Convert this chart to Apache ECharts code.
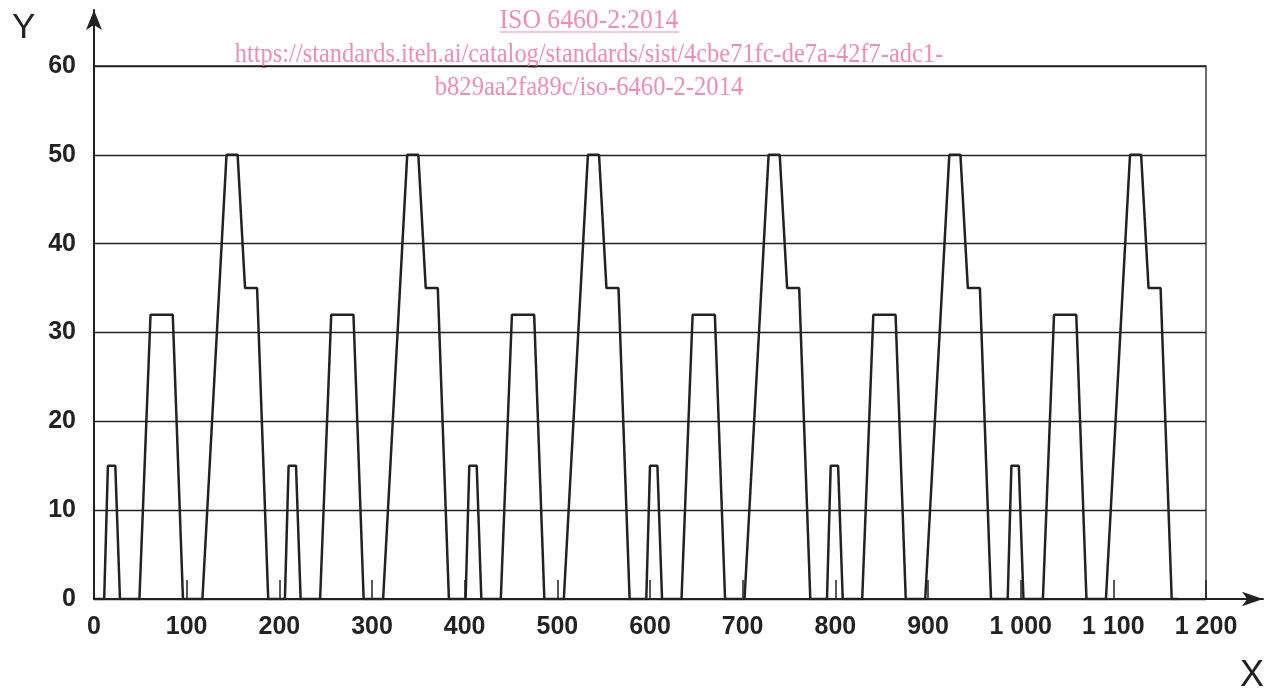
<!DOCTYPE html>
<html>
<head>
<meta charset="utf-8">
<script src="https://cdn.jsdelivr.net/npm/echarts@6/dist/echarts.min.js"></script>
<style>
  html, body { margin: 0; padding: 0; background: #fff; }
  #chart { width: 1274px; height: 688px; }
</style>
</head>
<body>
<div id="chart"></div>
<script>
// 一个循环的时间点(s)与速度(km/h)
const cycleTime = [0, 11, 15, 23, 28, 49, 61, 85, 96, 117, 143, 155, 163, 176, 188, 195];
const cycleSpeed = [0, 0, 15, 15, 0, 0, 32, 32, 0, 0, 50, 50, 35, 35, 0, 0];
// 各循环起始时间
const cycleStarts = [0, 195, 390, 585, 780, 975];
// 刻度
const xTicks = [0, 100, 200, 300, 400, 500, 600, 700, 800, 900, 1000, 1100, 1200];
const yTicks = [0, 10, 20, 30, 40, 50, 60];

const ink = '#222';
const pink = '#ef8db2';
const wmFont = '27px "Liberation Serif"';

// 拼接曲线数据
function buildData() {
    const data = [];
    cycleStarts.forEach(start => {
        cycleTime.forEach((t, i) => {
            data.push([start + t, cycleSpeed[i]]);
        });
    });
    return data;
}

function fmtThousand(v) {
    return v >= 1000 ? String(v).replace(/(\d)(?=(\d{3})$)/, '$1 ') : String(v);
}

// 水印文字
function wmText(text, baseline, sx) {
    return {
        type: 'text', x: 589, y: baseline, scaleX: sx,
        style: { text: text, font: wmFont, fill: pink, textAlign: 'center', textVerticalAlign: 'bottom' }
    };
}

const chart = echarts.init(document.getElementById('chart'));

const option = {
    animation: false,
    backgroundColor: '#fff',
    title: [
        { text: 'Y', left: 7, top: 6, textStyle: { fontFamily: 'Liberation Sans', fontSize: 35, fontWeight: 'normal', color: ink } },
        { text: 'X', left: 1235, top: 653, textStyle: { fontFamily: 'Liberation Sans', fontSize: 36, fontWeight: 'normal', color: ink } }
    ],
    grid: [
        { left: 94, right: 68, top: 66, bottom: 89, show: true, borderColor: ink, borderWidth: 1.3 },
        { left: 94, right: 11, top: 10, bottom: 89 }
    ],
    xAxis: [
        {
            gridIndex: 0, type: 'value', min: xTicks[0], max: xTicks[xTicks.length - 1], interval: 100,
            axisLine: { show: false },
            axisTick: { show: true, inside: true, length: 19, lineStyle: { color: ink, width: 1.5 } },
            splitLine: { show: false },
            axisLabel: {
                margin: 16, color: ink, fontFamily: 'Liberation Sans', fontSize: 25, fontWeight: 'bold',
                formatter: v => fmtThousand(v)
            }
        },
        {
            gridIndex: 1, type: 'value', min: 0, max: 1,
            axisLine: { show: true, symbol: ['none', 'arrow'], symbolSize: [11, 21], lineStyle: { color: ink, width: 2 } },
            axisTick: { show: false }, axisLabel: { show: false }, splitLine: { show: false }
        }
    ],
    yAxis: [
        {
            gridIndex: 0, type: 'value', min: yTicks[0], max: yTicks[yTicks.length - 1], interval: 10,
            axisLine: { show: false },
            axisTick: { show: false },
            splitLine: { show: true, lineStyle: { color: ink, width: 1.3 } },
            axisLabel: { margin: 18, color: ink, fontFamily: 'Liberation Sans', fontSize: 25, fontWeight: 'bold' }
        },
        {
            gridIndex: 1, type: 'value', min: 0, max: 1,
            axisLine: { show: true, symbol: ['none', 'arrow'], symbolSize: [12, 20], lineStyle: { color: ink, width: 2 } },
            axisTick: { show: false }, axisLabel: { show: false }, splitLine: { show: false }
        }
    ],
    series: [{
        type: 'line',
        xAxisIndex: 0,
        yAxisIndex: 0,
        data: buildData(),
        showSymbol: false,
        lineStyle: { color: ink, width: 2.5 },
        z: 5
    }],
    graphic: [
        wmText('ISO 6460-2:2014', 34, 0.95),
        { type: 'line', shape: { x1: 500, y1: 32, x2: 679, y2: 32 }, style: { stroke: pink, lineWidth: 1.2 } },
        wmText('https://standards.iteh.ai/catalog/standards/sist/4cbe71fc-de7a-42f7-adc1-', 68, 0.905),
        wmText('b829aa2fa89c/iso-6460-2-2014', 101, 0.91)
    ]
};

chart.setOption(option);
window.addEventListener('resize', () => chart.resize());
</script>
</body>
</html>
